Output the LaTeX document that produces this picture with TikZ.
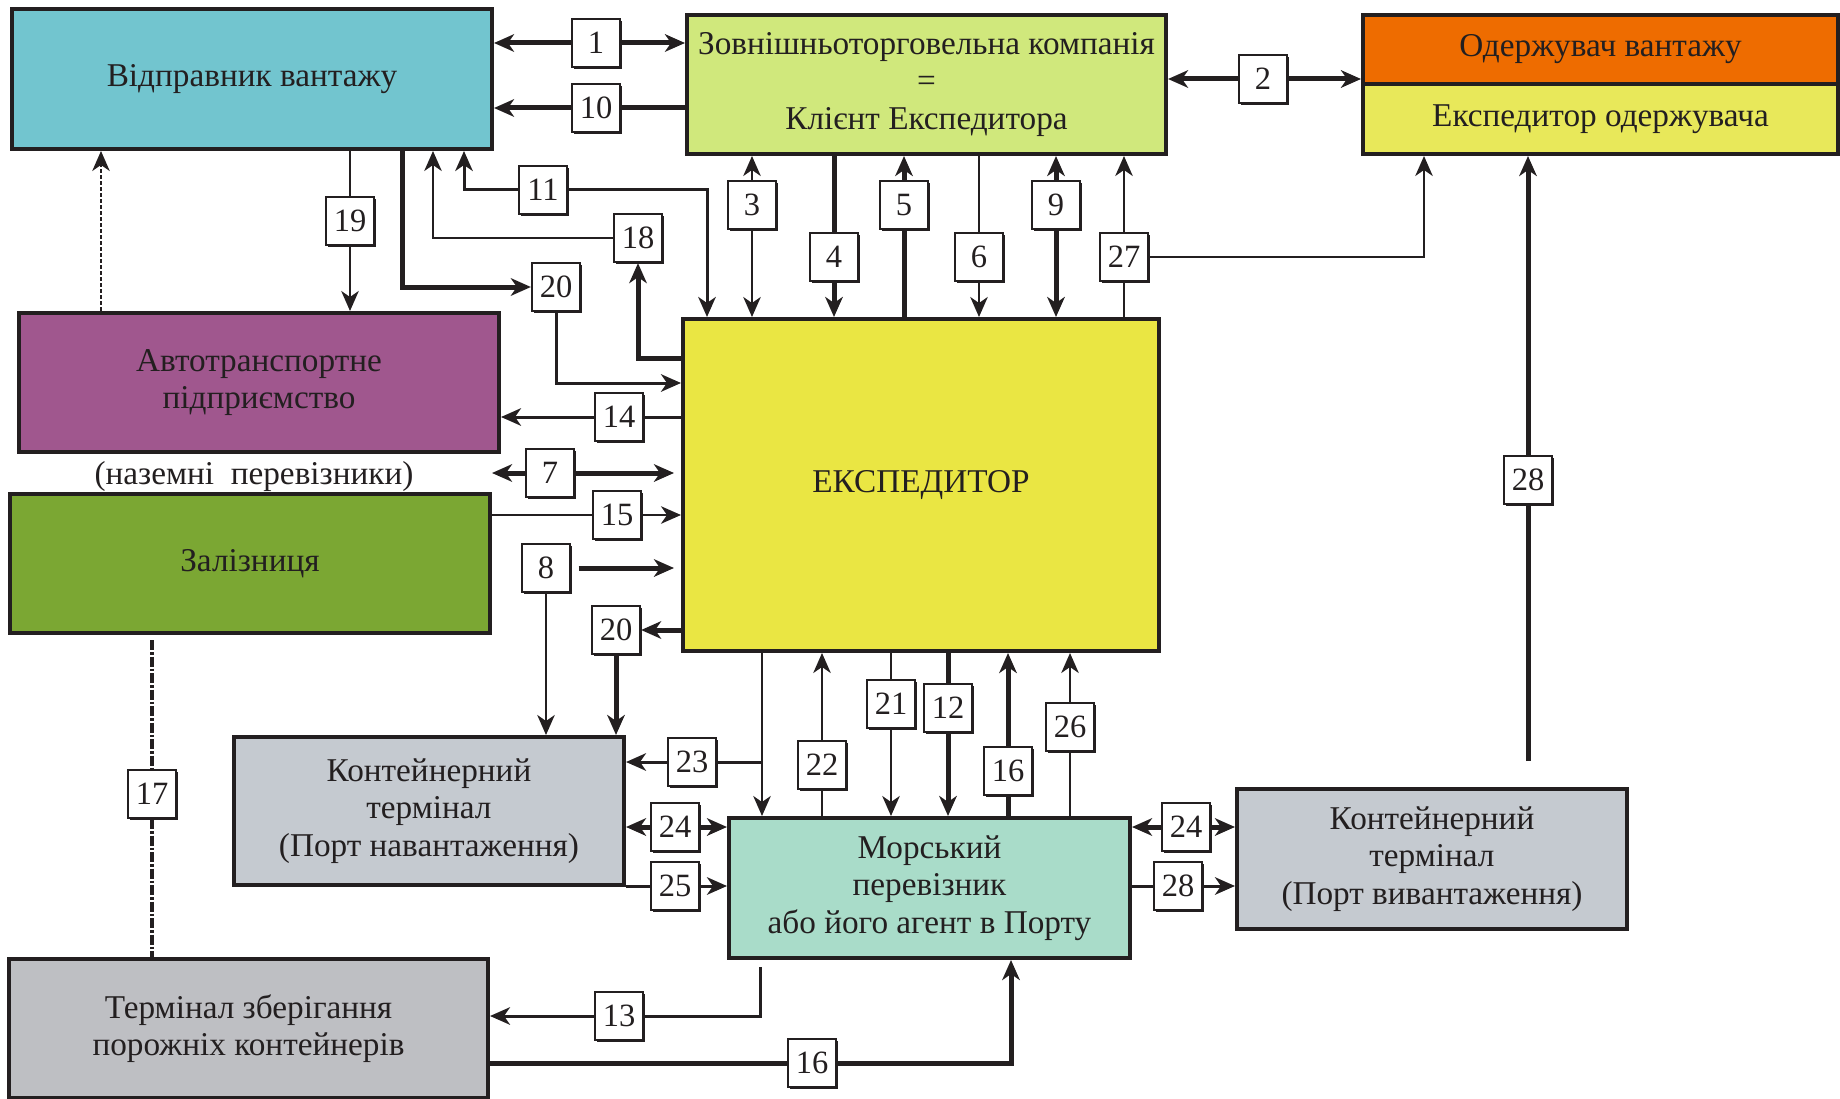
\documentclass[tikz,border=0pt]{standalone}
\usepackage{fontspec}
\setmainfont{Liberation Serif}
\newfontfamily\diagfont{Liberation Serif}
\usetikzlibrary{arrows.meta,shadows}
\definecolor{ink}{HTML}{231F20}
\definecolor{shipc}{HTML}{72C5CF}
\definecolor{clientc}{HTML}{D0E87C}
\definecolor{rcvc}{HTML}{EE6C00}
\definecolor{rfwc}{HTML}{E8E85A}
\definecolor{expc}{HTML}{EAE643}
\definecolor{autoc}{HTML}{A0578E}
\definecolor{railc}{HTML}{7BA733}
\definecolor{termc}{HTML}{C5CAD0}
\definecolor{seac}{HTML}{A9DCC9}
\definecolor{storc}{HTML}{BEBFC3}
\begin{document}
\begin{tikzpicture}[x=0.4pt,y=-0.4pt, >={Stealth[length=8pt,width=7pt,inset=2.4pt]}]
\tikzset{
  unit/.style={draw=ink, line width=1.6pt, inner sep=2pt, align=center, text=ink,
    font=\diagfont\fontsize{13.3}{15}\selectfont},
  num/.style={draw=ink, fill=white, line width=0.9pt, minimum size=19.2pt, inner sep=0pt,
    text=ink, font=\diagfont\fontsize{13}{13}\selectfont,
    drop shadow={shadow xshift=0.8pt, shadow yshift=-0.8pt, opacity=1, fill=ink}},
  thn/.style={draw=ink, line width=0.8pt},
  mid/.style={draw=ink, line width=1.2pt},
  thk/.style={draw=ink, line width=2pt},
  dots17/.style={draw=ink, line width=1.6pt, dash pattern=on 4pt off 0.8pt on 1pt off 0.8pt},
  dotsup/.style={draw=ink, line width=0.6pt, dash pattern=on 1.6pt off 0.8pt}
}
\useasboundingbox (0,0) rectangle (1840,1099);

\node[unit, fill=shipc, minimum width=192pt, minimum height=56pt] (shipper) at (252,79) {Відправник вантажу};
\node[unit, fill=clientc, minimum width=191.6pt, minimum height=55.6pt] (client) at (926.5,84.5)
  {Зовнішньоторговельна компанія\\=\\Клієнт Експедитора};
\node[unit, fill=rcvc, minimum width=190pt, minimum height=27.6pt] (rcv) at (1600.5,49.5) {Одержувач вантажу};
\node[unit, fill=rfwc, minimum width=190pt, minimum height=28pt] (rfw) at (1600.5,119) {Експедитор одержувача};
\node[unit, fill=expc, minimum width=190.4pt, minimum height=132.8pt] (exp) at (921,485) {ЕКСПЕДИТОР};
\node[unit, fill=autoc, minimum width=192pt, minimum height=55.6pt] (auto) at (259,382.5) {Автотранспортне\\підприємство};
\node[text=ink, font=\diagfont\fontsize{13.3}{15}\selectfont] (land) at (254,477) {(наземні\ \ перевізники)};
\node[unit, fill=railc, minimum width=192pt, minimum height=55.6pt] (rail) at (250,563.5) {Залізниця};
\node[unit, fill=termc, minimum width=156pt, minimum height=59.2pt] (ctload) at (429,811)
  {Контейнерний\\термінал\\(Порт навантаження)};
\node[unit, fill=seac, minimum width=160.4pt, minimum height=56pt] (sea) at (929.5,888)
  {Морський\\перевізник\\або його агент в Порту};
\node[unit, fill=termc, minimum width=156pt, minimum height=56pt] (ctdisch) at (1432,859)
  {Контейнерний\\термінал\\(Порт вивантаження)};
\node[unit, fill=storc, minimum width=191.6pt, minimum height=55.6pt] (storage) at (248.5,1028.5)
  {Термінал зберігання\\порожніх контейнерів};

\node[num] (n1) at (596,43) {1};
\node[num] (n10) at (596,108) {10};
\node[num] (n2) at (1263,79) {2};
\node[num] (n3) at (752,205) {3};
\node[num] (n4) at (834,257) {4};
\node[num] (n5) at (904,205) {5};
\node[num] (n6) at (979,257) {6};
\node[num] (n9) at (1056,205) {9};
\node[num] (n27) at (1124,257) {27};
\node[num] (n11) at (543,190) {11};
\node[num] (n18) at (638,238) {18};
\node[num] (n19) at (350,221) {19};
\node[num] (n20a) at (556,287) {20};
\node[num] (n14) at (619,417) {14};
\node[num] (n7) at (550,473) {7};
\node[num] (n15) at (617,515) {15};
\node[num] (n8) at (546,568) {8};
\node[num] (n20b) at (616,630) {20};
\node[num] (n17) at (152,794) {17};
\node[num] (n23) at (692,762) {23};
\node[num] (n22) at (822,765) {22};
\node[num] (n21) at (891,704) {21};
\node[num] (n12) at (948,708) {12};
\node[num] (n16a) at (1008,771) {16};
\node[num] (n26) at (1070,727) {26};
\node[num] (n24a) at (675,827) {24};
\node[num] (n25) at (675,886) {25};
\node[num] (n24b) at (1186,827) {24};
\node[num] (n28a) at (1178,886) {28};
\node[num] (n28b) at (1528,480) {28};
\node[num] (n13) at (619,1016) {13};
\node[num] (n16b) at (812,1063) {16};

\draw[thk,->] (n1.west) -- (n1 -| shipper.east);
\draw[thk,->] (n1.east) -- (n1 -| client.west);
\draw[thk] (n10 -| client.west) -- (n10.east);
\draw[thk,->] (n10.west) -- (n10 -| shipper.east);
\draw[thk,->] (n2.west) -- (n2 -| client.east);
\draw[thk,->] (n2.east) -- (n2 -| rcv.west);

\draw[thn,->] (n3.north) -- (n3 |- client.south);
\draw[thn,->] (n3.south) -- (n3 |- exp.north);
\draw[thk] (n4 |- client.south) -- (n4.north);
\draw[thk,->] (n4.south) -- (n4 |- exp.north);
\draw[thk] (n5 |- exp.north) -- (n5.south);
\draw[thk,->] (n5.north) -- (n5 |- client.south);
\draw[thn] (n6 |- client.south) -- (n6.north);
\draw[thn,->] (n6.south) -- (n6 |- exp.north);
\draw[thk,->] (n9.north) -- (n9 |- client.south);
\draw[thk,->] (n9.south) -- (n9 |- exp.north);
\draw[thn] (n27 |- exp.north) -- (n27.south);
\draw[thn,->] (n27.north) -- (n27 |- client.south);
\draw[thn,->] (n27.east) -| (rfw.south -| 1424,0);
\draw[thk] (n28b |- ctdisch.north) [shorten <=10.4pt] -- (n28b.south);
\draw[thk,->] (n28b.north) -- (n28b |- rfw.south);

\draw[mid,->] (n11.west) -| (shipper.south -| 464,0);
\draw[mid,->] (n11.east) -| (exp.north -| 707,0);
\draw[thk,->] (exp.west |- 0,358) -| (n18.south);
\draw[thn,->] (n18.west) -| (shipper.south -| 433,0);
\draw[thn] (n19 |- shipper.south) -- (n19.north);
\draw[thn,->] (n19.south) -- (n19 |- auto.north);
\draw[dotsup,->] (auto.north -| 101,0) -- (shipper.south -| 101,0);
\draw[thk,->] (shipper.south -| 402,0) |- (n20a.west);
\draw[mid,->] (n20a.south) |- (exp.west |- 0,383);

\draw[mid] (n14 -| exp.west) -- (n14.east);
\draw[mid,->] (n14.west) -- (n14 -| auto.east);
\draw[thk,->] (n7.west) -- (n7 -| rail.east);
\draw[thk,->,shorten >=2.8pt] (n7.east) -- (n7 -| exp.west);
\draw[thn] (n15 -| rail.east) -- (n15.west);
\draw[thn,->] (n15.east) -- (n15 -| exp.west);
\draw[thk,->,shorten <=3pt,shorten >=2.8pt] (n8.east) -- (n8 -| exp.west);
\draw[thn,->] (n8.south) -- (n8 |- ctload.north);
\draw[thk,->] (n20b -| exp.west) -- (n20b.east);
\draw[thk,->] (n20b.south) -- (n20b |- ctload.north);
\draw[dots17] (n17 |- rail.south) [shorten <=2pt] -- (n17.north);
\draw[dots17] (n17.south) -- (n17 |- storage.north);

\draw[thn,->] (exp.south -| 762,0) -- (sea.north -| 762,0);
\draw[mid] (n23 -| 762,0) -- (n23.east);
\draw[mid,->] (n23.west) -- (n23 -| ctload.east);
\draw[thn] (n22 |- sea.north) -- (n22.south);
\draw[thn,->] (n22.north) -- (n22 |- exp.south);
\draw[thn] (n21 |- exp.south) -- (n21.north);
\draw[thn,->] (n21.south) -- (n21 |- sea.north);
\draw[thk] (n12 |- exp.south) -- (n12.north);
\draw[thk,->] (n12.south) -- (n12 |- sea.north);
\draw[thk] (n16a |- sea.north) -- (n16a.south);
\draw[thk,->] (n16a.north) -- (n16a |- exp.south);
\draw[thn] (n26 |- sea.north) -- (n26.south);
\draw[thn,->] (n26.north) -- (n26 |- exp.south);

\draw[thk,->] (n24a.west) -- (n24a -| ctload.east);
\draw[thk,->] (n24a.east) -- (n24a -| sea.west);
\draw[mid] (n25 -| ctload.east) -- (n25.west);
\draw[mid,->] (n25.east) -- (n25 -| sea.west);
\draw[thk,->] (n24b.west) -- (n24b -| sea.east);
\draw[thk,->] (n24b.east) -- (n24b -| ctdisch.west);
\draw[mid] (n28a -| sea.east) -- (n28a.west);
\draw[mid,->] (n28a.east) -- (n28a -| ctdisch.west);

\draw[mid] (sea.south -| 760,0) [shorten <=2.8pt] |- (n13.east);
\draw[mid,->] (n13.west) -- (n13 -| storage.east);
\draw[thk] (n16b -| storage.east) -- (n16b.west);
\draw[thk,->] (n16b.east) -| (sea.south -| 1011,0);
\end{tikzpicture}
\end{document}
